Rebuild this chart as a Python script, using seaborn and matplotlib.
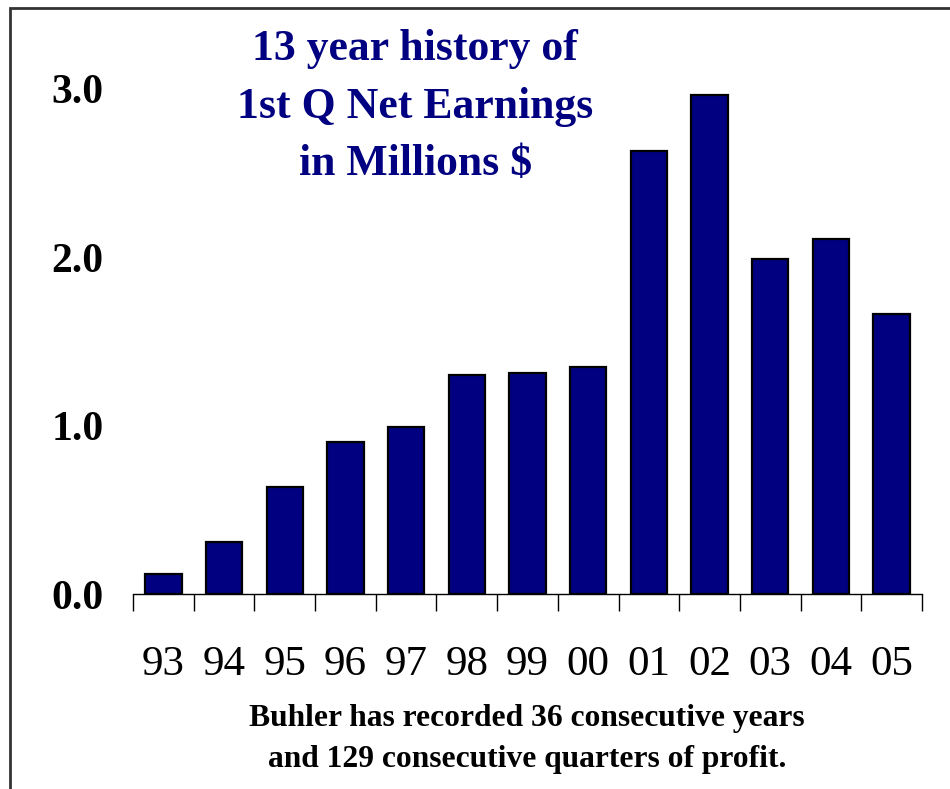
#!/usr/bin/env python
"""
Bar chart of 1st quarter net earnings, 1993-2005
"""

import matplotlib
matplotlib.use("Agg")
import matplotlib.pyplot as plt
from matplotlib.patches import Rectangle
from matplotlib.ticker import FixedLocator
import seaborn as sns
import pandas as pd

years = ["93", "94", "95", "96", "97", "98", "99", "00", "01", "02", "03", "04", "05"]
earnings = [0.12, 0.31, 0.635, 0.90, 0.99, 1.30, 1.31, 1.35, 2.63, 2.96, 1.99, 2.11, 1.66]
yticks = [0.0, 1.0, 2.0, 3.0]
title_lines = ["13 year history of", "1st Q Net Earnings", "in Millions $"]
footer_lines = ["Buhler has recorded 36 consecutive years",
                "and 129 consecutive quarters of profit."]

sns.set_style("white")
plt.rcParams["font.family"] = ["Liberation Serif", "DejaVu Serif"]
plt.rcParams["text.color"] = "black"
plt.rcParams["xtick.color"] = "black"
plt.rcParams["ytick.color"] = "black"

df = pd.DataFrame({"year": years, "earnings": earnings})

fig = plt.figure(figsize=(9.5, 7.89), dpi=100)
ax = fig.add_axes([0.14, 0.247, 0.8305, 0.726])

sns.barplot(data=df, x="year", y="earnings", color="#000080",
            edgecolor="black", linewidth=1.6, width=0.6, saturation=1,
            ax=ax)

ax.set_ylim(0, 3.4)
ax.set_xlim(-0.5, len(years) - 0.5)
ax.set_yticks(yticks)
ax.set_yticklabels([f"{v:.1f}" for v in yticks], fontsize=30,
                   fontweight="bold", color="black")
ax.tick_params(axis="y", length=0, pad=21)
ax.tick_params(axis="x", which="major", length=0, pad=37, labelsize=31,
               labelcolor="black")
ax.xaxis.set_minor_locator(FixedLocator([i - 0.5 for i in range(len(years) + 1)]))
ax.tick_params(axis="x", which="minor", bottom=True, length=12, width=1,
               color="black", direction="out")
ax.set_xlabel("")
ax.set_ylabel("")
for side in ["top", "right", "left"]:
    ax.spines[side].set_visible(False)
ax.spines["bottom"].set_color("black")
ax.spines["bottom"].set_linewidth(1)

# title inside the plot area
fig.text(0.437, 0.865, "\n".join(title_lines), ha="center", va="center",
         fontsize=31.5, fontweight="bold", color="#000080", linespacing=1.55)

# footer note
fig.text(0.555, 0.0634, "\n".join(footer_lines), ha="center", va="center",
         fontsize=22.7, fontweight="bold", color="black", linespacing=1.55)

# outer frame
fig.patches.append(Rectangle((10 / 950, -0.05), 1.2, 1 - 8 / 789 + 0.05,
                             transform=fig.transFigure, fill=False,
                             edgecolor="#333333", linewidth=2))

fig.savefig("out.png", dpi=100)
